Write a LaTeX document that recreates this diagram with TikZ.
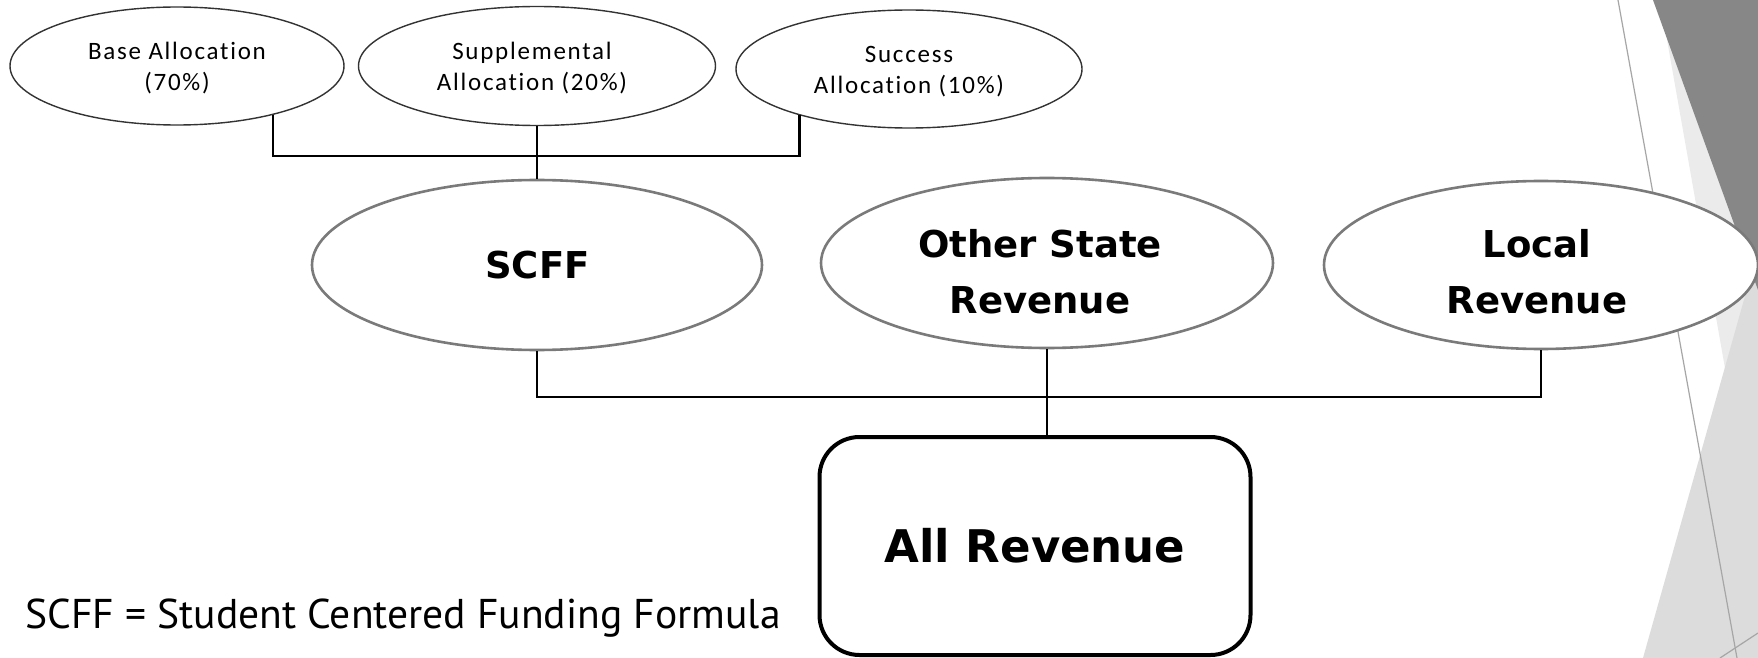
\documentclass[tikz,border=0pt]{standalone}
\usepackage{fontspec}
\setmainfont{Carlito}
\newfontfamily\smallfont[LetterSpace=7, Ligatures={NoCommon,NoRequired,NoContextual}]{Carlito}
\newfontfamily\boldfont{DejaVu Sans}
\newfontfamily\notefont{PT Sans}
\usetikzlibrary{shapes.geometric}
\definecolor{deco dark}{HTML}{878787}
\definecolor{deco light}{HTML}{EBEBEB}
\definecolor{deco mid}{HTML}{DCDCDC}
\definecolor{deco line}{HTML}{A6A6A6}
\tikzset{
  alloc/.style={ellipse, draw=black!80, line width=0.7pt, fill=white, inner sep=0pt},
  rev/.style={ellipse, draw=black!52, line width=1.3pt, fill=white, inner sep=0pt},
  alloctext/.style={inner sep=0pt, align=center,
    font=\smallfont\fontsize{12.5pt}{15.5pt}\selectfont},
  revtext/.style={inner sep=0pt, align=center,
    font=\boldfont\bfseries\fontsize{18.5pt}{28pt}\selectfont},
  total/.style={rectangle, draw=black, line width=2pt, rounded corners=20pt, fill=white,
    minimum width=215.5pt, minimum height=109pt, inner sep=0pt,
    font=\boldfont\bfseries\fontsize{22.5pt}{27pt}\selectfont},
  conn/.style={line width=1.4pt, draw=black},
  note/.style={anchor=base west, inner sep=0pt, font=\notefont\fontsize{20.8pt}{24pt}\selectfont}
}
\begin{document}
\begin{tikzpicture}[x=0.5pt,y=-0.5pt]
\useasboundingbox (0,0) rectangle (1758,658);
\fill[white] (0,0) rectangle (1758,658);
% decorations
\fill[deco light] (1660,0) -- (1758,0) -- (1758,555) -- cycle;
\fill[deco mid] (1758,250) -- (1643,658) -- (1758,658) -- cycle;
\fill[deco dark] (1653,0) -- (1758,0) -- (1758,290) -- cycle;
\draw[deco line, line width=0.6pt] (1618,0) -- (1737,658);
\draw[deco line, line width=0.6pt] (1720,658) -- (1758,633);
% shapes
\node[alloc, minimum width=167pt, minimum height=59pt] (base) at (177,66) {};
\node[alloc, minimum width=178.5pt, minimum height=59.5pt] (supp) at (537,66) {};
\node[alloc, minimum width=173pt, minimum height=59pt] (succ) at (909,69) {};
\node[rev, minimum width=225pt, minimum height=85pt] (scff) at (537,265) {};
\node[rev, minimum width=226pt, minimum height=85pt] (other) at (1047,263) {};
\node[rev, minimum width=217pt, minimum height=84pt] (local) at (1541,265) {};
\node[total] (all) at (1035,546) {All Revenue};
% texts
\node[alloctext] (base-t) at (177,68) {Base Allocation\\(70\%)};
\node[alloctext] (supp-t) at (532,68) {Supplemental\\Allocation (20\%)};
\node[alloctext] (succ-t) at (909,72) {Success\\Allocation (10\%)};
\node[revtext] (scff-t) at (537.5,265.5) {SCFF};
\node[revtext] (other-t) at (1040,272) {Other State\\Revenue};
\node[revtext] (local-t) at (1537,272) {Local\\Revenue};
\node[note] (legend) at (25,628) {SCFF = Student Centered Funding Formula};
% connectors
\coordinate (tophub) at (537,156);
\coordinate (midhub) at (1047,397);
\draw[conn] (base.-27.4) -- (base.-27.4 |- tophub) -- (succ.-157.2 |- tophub) -- (succ.-157.2);
\draw[conn] (supp.south) -- (scff.north);
\draw[conn] (scff.south) -- (scff.south |- midhub) -- (local.south |- midhub) -- (local.south);
\draw[conn, line width=1.1pt] (other.south) -- (other.south |- all.north);
\end{tikzpicture}
\end{document}
